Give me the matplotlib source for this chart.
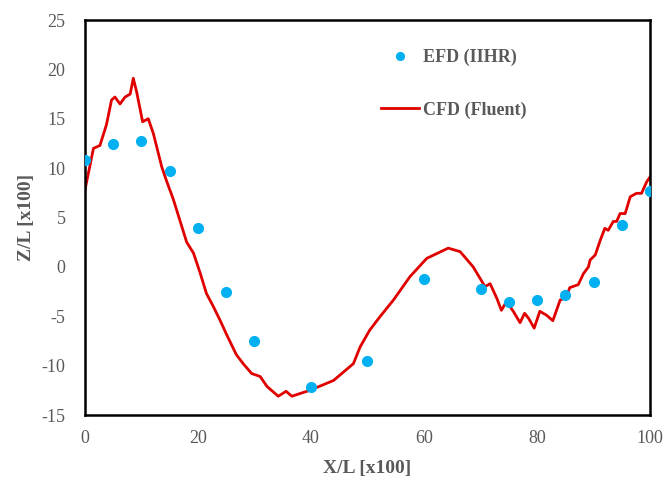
import matplotlib
matplotlib.use('Agg')

import matplotlib.pyplot as plt

# EFD (IIHR) measurements
efd_x = [0, 5, 10, 15, 20, 25, 30, 40, 50, 60, 70, 75, 80, 85, 90, 95, 100]
efd_z = [10.8, 12.4, 12.7, 9.7, 3.9, -2.5, -7.5, -12.2, -9.5, -1.2, -2.2,
         -3.6, -3.35, -2.85, -1.5, 4.2, 7.7]

# CFD (Fluent) curve, traced
cfd_x = [0, 1.5, 2.65, 3.8, 4.7, 5.3, 6.2, 7.1, 8.0, 8.55, 9.15, 10.2, 11.2,
         12.1, 13.6, 14.5, 15.6, 16.8, 18.0, 19.2, 20.4, 21.5, 22.7, 23.9,
         25.1, 26.8, 28.0, 29.5, 31.0, 32.2, 34.2, 35.6, 36.6, 39.8, 44.0,
         47.5, 48.7, 50.4, 52.2, 54.6, 57.5, 60.5, 64.3, 66.4, 68.7, 70.8,
         71.7, 72.9, 73.7, 74.6, 75.8, 77.0, 77.8, 78.5, 79.5, 80.5, 81.7,
         82.8, 84.1, 84.8, 85.3, 85.8, 87.3, 88.2, 89.1, 89.4, 90.3, 91.2,
         92.0, 92.6, 93.5, 94.1, 94.7, 95.6, 96.5, 97.6, 98.5, 99.4, 100]
cfd_z = [7.8, 12.0, 12.3, 14.4, 16.9, 17.2, 16.5, 17.2, 17.5, 19.1, 17.7,
         14.7, 15.0, 13.5, 10.1, 8.6, 6.9, 4.7, 2.5, 1.4, -0.65, -2.7, -4.0,
         -5.4, -6.9, -8.9, -9.8, -10.8, -11.1, -12.1, -13.1, -12.6, -13.1,
         -12.5, -11.5, -9.8, -8.1, -6.4, -5.05, -3.35, -1.0, 0.87, 1.9, 1.54,
         0.0, -2.0, -1.7, -3.2, -4.4, -3.5, -4.5, -5.65, -4.7, -5.2, -6.2,
         -4.5, -4.9, -5.45, -3.35, -3.2, -2.85, -2.1, -1.8, -0.7, 0.0, 0.7,
         1.2, 2.7, 3.9, 3.7, 4.6, 4.6, 5.4, 5.4, 7.1, 7.45, 7.45, 8.6, 9.1]

x_ticks = [0, 20, 40, 60, 80, 100]
y_ticks = [-15, -10, -5, 0, 5, 10, 15, 20, 25]

grey = '#595959'
plt.rcParams['font.family'] = ['Liberation Serif', 'DejaVu Serif']
plt.rcParams['axes.unicode_minus'] = False

fig = plt.figure(figsize=(6.66, 4.82), dpi=100)
ax = fig.add_axes([0.1276, 0.139, 0.8484, 0.8195])

ax.plot(efd_x, efd_z, 'o', color='#00B0F0', markersize=7, label='EFD (IIHR)',
        zorder=3)
ax.plot(cfd_x, cfd_z, '-', color='#E00000', linewidth=2, label='CFD (Fluent)',
        zorder=2)

ax.set_xlim(0, 100)
ax.set_ylim(-15, 25)
ax.set_xticks(x_ticks)
ax.set_yticks(y_ticks)
ax.tick_params(length=0, labelsize=13, labelcolor=grey)
ax.tick_params(axis='y', pad=14)
ax.tick_params(axis='x', pad=11)

for s in ax.spines.values():
    s.set_color('black')
    s.set_linewidth(1.8)

ax.set_xlabel('X/L [x100]', fontsize=14, fontweight='bold', color=grey,
              labelpad=9)
ax.set_ylabel('Z/L [x100]', fontsize=14, fontweight='bold', color=grey,
              labelpad=5)

leg = ax.legend(loc='upper left', bbox_to_anchor=(0.508, 0.95), frameon=False,
                borderpad=0, handlelength=2.1, handletextpad=0.2,
                labelspacing=1.95, markerscale=0.8,
                prop={'weight': 'bold', 'size': 13})
for t in leg.get_texts():
    t.set_color(grey)

plt.savefig('out.png')
plt.close()
